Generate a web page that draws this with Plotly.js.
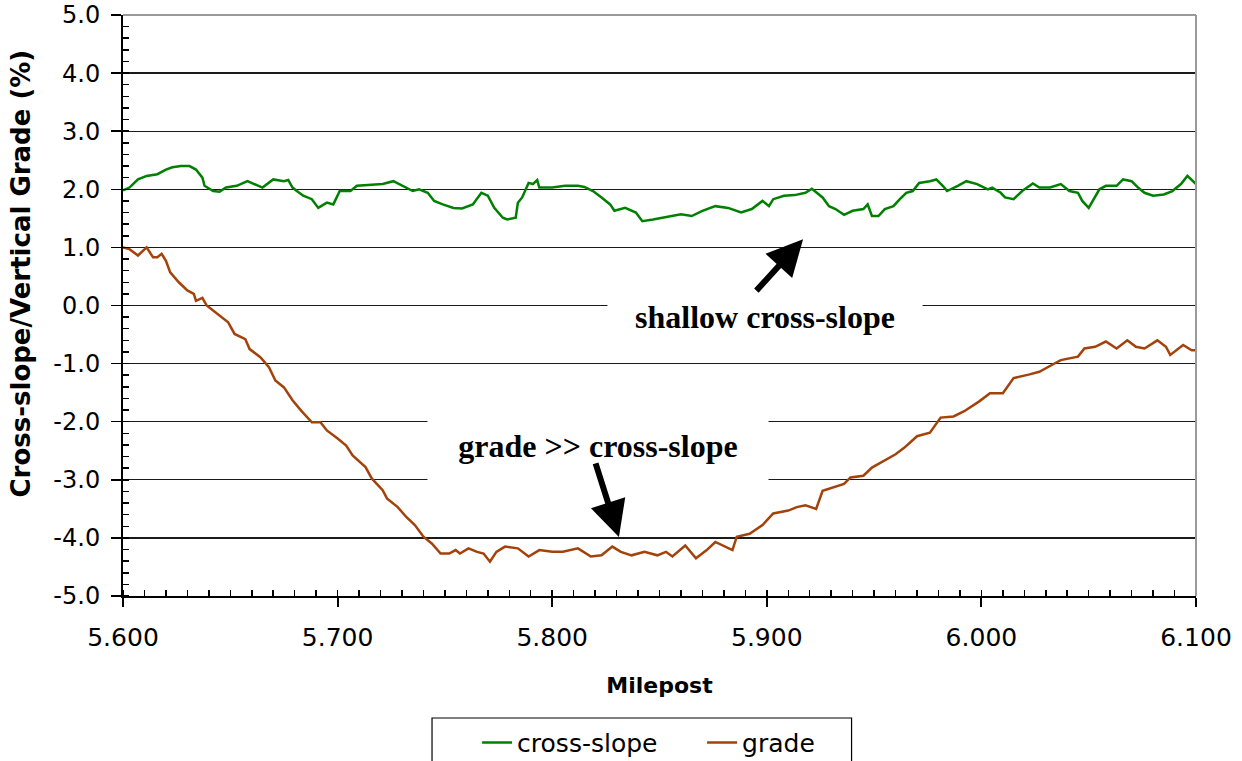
<!DOCTYPE html>
<html>
<head>
<meta charset="utf-8">
<script src="https://cdn.plot.ly/plotly-3.0.1.min.js"></script>
<style>html,body{margin:0;padding:0;background:#fff;}</style>
</head>
<body>
<div id="chart" style="width:1242px;height:761px;"></div>
<script>
// ---- Data ----
const crossSlopeMilepost = [5.600,5.603,5.607,5.611,5.616,5.620,5.623,5.627,5.631,5.634,5.637,5.638,5.642,5.645,5.648,5.653,5.658,5.662,5.665,5.670,5.675,5.677,5.679,5.681,5.684,5.688,5.691,5.695,5.698,5.701,5.706,5.709,5.715,5.721,5.726,5.730,5.735,5.738,5.742,5.745,5.749,5.754,5.758,5.763,5.767,5.770,5.773,5.777,5.779,5.783,5.784,5.786,5.789,5.791,5.793,5.794,5.800,5.806,5.812,5.815,5.819,5.823,5.827,5.829,5.834,5.839,5.842,5.847,5.851,5.856,5.860,5.865,5.870,5.876,5.882,5.888,5.893,5.898,5.901,5.903,5.908,5.913,5.918,5.921,5.926,5.929,5.932,5.936,5.940,5.945,5.947,5.949,5.952,5.955,5.959,5.962,5.965,5.968,5.971,5.976,5.979,5.982,5.984,5.989,5.993,5.998,6.003,6.005,6.009,6.011,6.015,6.019,6.024,6.027,6.032,6.037,6.041,6.045,6.047,6.050,6.052,6.055,6.058,6.063,6.066,6.070,6.073,6.076,6.080,6.085,6.089,6.093,6.096,6.100];
const crossSlope = [1.98,2.03,2.17,2.23,2.26,2.34,2.38,2.40,2.40,2.34,2.20,2.06,1.97,1.96,2.03,2.06,2.14,2.07,2.03,2.17,2.14,2.16,2.03,1.97,1.89,1.83,1.68,1.77,1.74,1.97,1.97,2.06,2.07,2.09,2.14,2.06,1.97,2.00,1.94,1.80,1.74,1.68,1.67,1.74,1.94,1.89,1.68,1.51,1.48,1.51,1.77,1.86,2.11,2.09,2.16,2.03,2.03,2.06,2.06,2.04,1.97,1.86,1.74,1.63,1.68,1.60,1.45,1.48,1.51,1.54,1.57,1.54,1.63,1.71,1.68,1.60,1.66,1.80,1.71,1.83,1.89,1.90,1.94,2.01,1.86,1.71,1.66,1.56,1.63,1.66,1.74,1.54,1.54,1.66,1.71,1.83,1.94,1.97,2.11,2.14,2.17,2.06,1.97,2.06,2.14,2.09,2.00,2.03,1.94,1.86,1.83,1.97,2.10,2.03,2.03,2.09,1.97,1.94,1.80,1.68,1.80,2.00,2.06,2.06,2.17,2.14,2.03,1.94,1.89,1.91,1.97,2.09,2.23,2.09];

const gradeMilepost = [5.600,5.603,5.607,5.611,5.614,5.616,5.618,5.620,5.622,5.626,5.630,5.633,5.634,5.637,5.639,5.644,5.649,5.652,5.657,5.659,5.664,5.668,5.671,5.675,5.679,5.683,5.688,5.692,5.695,5.700,5.704,5.707,5.713,5.716,5.721,5.723,5.728,5.732,5.736,5.740,5.744,5.748,5.752,5.755,5.757,5.761,5.765,5.768,5.771,5.774,5.778,5.784,5.789,5.794,5.800,5.805,5.812,5.818,5.823,5.828,5.832,5.837,5.843,5.849,5.853,5.856,5.862,5.867,5.872,5.876,5.881,5.884,5.886,5.892,5.898,5.903,5.910,5.914,5.918,5.923,5.926,5.931,5.936,5.939,5.945,5.949,5.956,5.960,5.964,5.970,5.976,5.981,5.987,5.992,5.999,6.004,6.010,6.015,6.022,6.027,6.033,6.037,6.045,6.048,6.053,6.058,6.063,6.068,6.072,6.076,6.082,6.086,6.088,6.094,6.098,6.100];
const grade = [1.00,0.97,0.86,1.00,0.83,0.83,0.89,0.77,0.57,0.40,0.26,0.20,0.08,0.13,0.00,-0.15,-0.29,-0.49,-0.58,-0.75,-0.89,-1.06,-1.29,-1.41,-1.63,-1.81,-2.01,-2.01,-2.15,-2.29,-2.41,-2.58,-2.78,-2.98,-3.18,-3.32,-3.47,-3.64,-3.78,-3.98,-4.10,-4.27,-4.27,-4.21,-4.27,-4.18,-4.24,-4.27,-4.41,-4.24,-4.15,-4.18,-4.32,-4.21,-4.24,-4.24,-4.18,-4.32,-4.30,-4.15,-4.24,-4.30,-4.24,-4.30,-4.24,-4.32,-4.13,-4.35,-4.21,-4.07,-4.15,-4.21,-3.98,-3.93,-3.78,-3.58,-3.53,-3.47,-3.44,-3.50,-3.19,-3.13,-3.07,-2.96,-2.93,-2.79,-2.65,-2.56,-2.45,-2.25,-2.19,-1.93,-1.91,-1.82,-1.65,-1.51,-1.51,-1.25,-1.19,-1.14,-1.02,-0.94,-0.88,-0.74,-0.71,-0.62,-0.74,-0.60,-0.71,-0.74,-0.60,-0.71,-0.85,-0.68,-0.77,-0.77];

const seriesNames = ["cross-slope", "grade"];
const yTickVals = [-5,-4,-3,-2,-1,0,1,2,3,4,5];
const yTickText = ["-5.0","-4.0","-3.0","-2.0","-1.0","0.0","1.0","2.0","3.0","4.0","5.0"];
const xTickVals = [5.6,5.7,5.8,5.9,6.0,6.1];
const xTickText = ["5.600","5.700","5.800","5.900","6.000","6.100"];
const xTitle = "Milepost";
const yTitle = "Cross-slope/Vertical Grade (%)";
const noteShallow = "shallow cross-slope";
const noteGrade = "grade &gt;&gt; cross-slope";

// ---- Chart ----
const sans = "DejaVu Sans, Verdana, sans-serif";
const serif = "Liberation Serif, Times New Roman, serif";

const traces = [
  {x: crossSlopeMilepost, y: crossSlope, name: seriesNames[0], type: "scatter", mode: "lines",
   line: {color: "#008000", width: 2.5}},
  {x: gradeMilepost, y: grade, name: seriesNames[1], type: "scatter", mode: "lines",
   line: {color: "#a3420b", width: 2.5}}
];

const layout = {
  width: 1242, height: 761,
  margin: {l: 123, r: 46, t: 15, b: 165, autoexpand: false},
  paper_bgcolor: "#fff", plot_bgcolor: "#fff",
  showlegend: true,
  xaxis: {
    range: [5.6, 6.1], tickmode: "array", tickvals: xTickVals, ticktext: xTickText,
    showgrid: false, zeroline: false, showline: true, linecolor: "#000", linewidth: 2,
    ticks: "outside", ticklen: 9, tickwidth: 2, tickcolor: "#000",
    minor: {tickmode: "linear", tick0: 5.6, dtick: 0.01, ticks: "inside", ticklen: 6, tickwidth: 1.5, tickcolor: "#000", showgrid: false},
    tickfont: {family: sans, size: 25, color: "#000"},
    ticklabelstandoff: 9,
    title: {text: "<b>" + xTitle + "</b>", font: {family: sans, size: 22, color: "#000"}, standoff: 27},
    automargin: false, fixedrange: true
  },
  xaxis2: {
    range: [5.6, 6.1], overlaying: "x", anchor: "y", side: "bottom", matches: "x",
    tickmode: "array", tickvals: xTickVals, showticklabels: false,
    ticks: "inside", ticklen: 9, tickwidth: 2, tickcolor: "#000",
    showgrid: false, zeroline: false, showline: false
  },
  yaxis: {
    range: [-5, 5], tickmode: "array", tickvals: yTickVals, ticktext: yTickText,
    showgrid: true, gridcolor: "#1a1a1a", gridwidth: 1.3,
    zeroline: false, showline: true, linecolor: "#000", linewidth: 2,
    ticks: "outside", ticklen: 10, tickwidth: 1.5, tickcolor: "#000",
    minor: {tickmode: "linear", tick0: -5, dtick: 0.2, ticks: "inside", ticklen: 6, tickwidth: 1.5, tickcolor: "#000", showgrid: false},
    tickfont: {family: sans, size: 24, color: "#000"},
    ticklabelstandoff: 6,
    automargin: false, fixedrange: true
  },
  legend: {
    orientation: "h", x: 0.33, xanchor: "left", y: -0.213, yanchor: "top",
    borderwidth: 0, bgcolor: "rgba(0,0,0,0)", entrywidth: 180,
    font: {family: sans, size: 25, color: "#000"}
  },
  shapes: [
    {type: "line", xref: "paper", yref: "paper", x0: 0, x1: 1, y0: 1, y1: 1, line: {color: "#9a9a9a", width: 2}},
    {type: "line", xref: "paper", yref: "paper", x0: 1, x1: 1, y0: 0, y1: 1, line: {color: "#9a9a9a", width: 2}},
    {type: "rect", xref: "paper", yref: "paper", x0: 0.288, x1: 0.679, y0: -0.32, y1: -0.21, line: {color: "#000", width: 1.2}, fillcolor: "rgba(0,0,0,0)"}
  ],
  annotations: [
    {text: "<b>" + yTitle + "</b>", xref: "paper", yref: "paper", x: -0.0951, y: 0.555,
     xanchor: "center", yanchor: "middle", textangle: -90, showarrow: false,
     font: {family: sans, size: 26, color: "#000"}},
    {text: "<b>" + noteShallow + "</b>", xref: "x", yref: "y", x: 5.8990, y: -0.2,
     showarrow: false, bgcolor: "#fff", width: 312, height: 48,
     font: {family: serif, size: 32, color: "#000"}},
    {text: "<b>" + noteGrade + "</b>", xref: "x", yref: "y", x: 5.8215, y: -2.41,
     showarrow: false, bgcolor: "#fff", width: 338, height: 84,
     font: {family: serif, size: 32, color: "#000"}},
    {text: "", xref: "x", yref: "y", x: 5.9169, y: 1.14, axref: "x", ayref: "y", ax: 5.8945, ay: 0.23,
     showarrow: true, arrowhead: 2, arrowsize: 1.2, arrowwidth: 6, arrowcolor: "#000", standoff: 0},
    {text: "", xref: "x", yref: "y", x: 5.8311, y: -3.985, axref: "x", ayref: "y", ax: 5.8200, ay: -2.69,
     showarrow: true, arrowhead: 2, arrowsize: 1.2, arrowwidth: 6, arrowcolor: "#000", standoff: 0}
  ]
};

Plotly.newPlot("chart", traces, layout, {displayModeBar: false, staticPlot: true});
</script>
</body>
</html>
